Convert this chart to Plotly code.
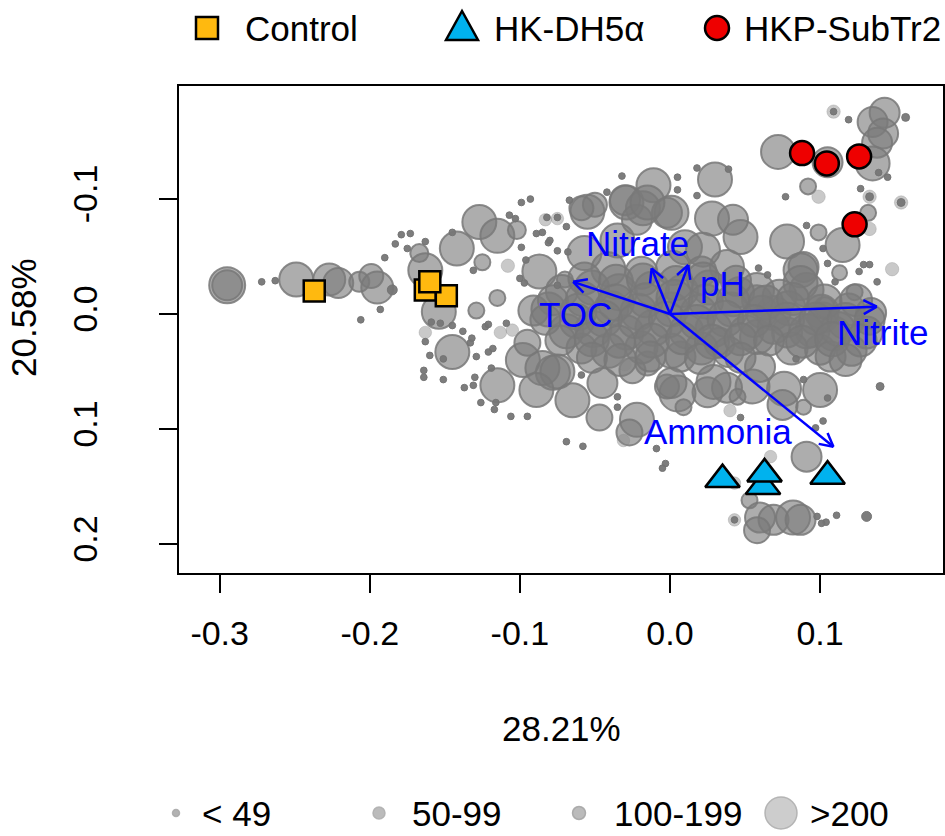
import math
import plotly.graph_objects as go

# ---------------- data ----------------
# OTU bubbles: ordination scores (axis 1, axis 2) and abundance
otu_x = [-0.295, -0.295, -0.272, -0.263, -0.249, -0.227, -0.221, -0.207, -0.199, -0.195,
         -0.185, -0.193, -0.206, -0.190, -0.183, -0.179, -0.173, -0.175, -0.163, -0.167,
         -0.163, -0.154, -0.142, -0.127, -0.115, -0.102, -0.125, -0.099, -0.093, -0.107,
         -0.103, -0.081, -0.075, -0.087, -0.108, -0.115, -0.131, -0.145, -0.129, -0.091,
         -0.083, -0.075, -0.069, -0.067, -0.089, -0.085, -0.099, -0.096, -0.075, -0.068,
         -0.055, -0.057, -0.029, -0.011, -0.018, -0.002, -0.035, -0.070, -0.042, -0.032,
         0.005, -0.080, -0.100, -0.097, 0.143, 0.157, 0.109, 0.109, 0.119, 0.135,
         0.142, 0.138, 0.135, 0.072, 0.105, 0.087, 0.145, 0.139, 0.092, 0.099,
         0.077, 0.127, 0.133, 0.133, 0.154, 0.154, 0.132, 0.133, 0.091, 0.099,
         0.115, 0.078, 0.089, 0.091, 0.102, 0.105, 0.129, 0.133, 0.126, 0.148,
         0.138, 0.113, 0.110, 0.123, 0.030, 0.018, 0.039, 0.005, 0.018, -0.030,
         -0.050, -0.059, 0.001, 0.028, 0.047, 0.042, 0.010, 0.038, 0.058, 0.069,
         -0.022, -0.082, -0.075, 0.087, 0.087, -0.015, 0.022, 0.058, 0.073, 0.059,
         0.065, 0.103, 0.095, 0.109, 0.100, 0.107, 0.102, 0.078, 0.058, 0.033,
         0.007, -0.015, 0.084, 0.140, 0.089, 0.100, 0.105, 0.076, 0.055, 0.038,
         0.025, 0.005, -0.002, 0.045, 0.089, 0.075, 0.009, 0.102, 0.047, 0.097,
         0.040, -0.022, -0.027, -0.031, -0.069, -0.058, -0.009, -0.003, -0.005, -0.047,
         -0.065, -0.078, -0.045, -0.025, 0.001, 0.091, 0.067, 0.043, 0.053, 0.060,
         0.069, 0.082, 0.087, 0.058, 0.043, 0.043, 0.098, 0.104, 0.101, 0.111,
         0.131, 0.029, 0.060, -0.159, -0.153, -0.145, -0.138, -0.163, -0.163, -0.145,
         -0.133, -0.132, -0.160, -0.151, -0.129, -0.121, -0.118, -0.123, -0.121, -0.109,
         -0.113, -0.105, -0.098, -0.085, -0.075, -0.089, -0.115, -0.164, -0.164, -0.151,
         -0.137, -0.131, -0.130, -0.119, -0.126, -0.117, -0.106, -0.095, -0.116, -0.035,
         -0.035, -0.059, -0.030, -0.095]
otu_y = [-0.025, -0.025, -0.028, -0.029, -0.030, -0.030, -0.027, -0.028, -0.033, -0.023,
         -0.021, -0.004, 0.005, -0.049, -0.061, -0.069, -0.070, -0.057, -0.063, -0.053,
         -0.038, -0.002, -0.057, -0.080, -0.068, -0.073, -0.045, -0.097, -0.100, -0.086,
         -0.083, -0.062, -0.055, -0.037, -0.042, -0.014, -0.038, -0.071, -0.003, -0.003,
         -0.082, -0.083, -0.076, -0.099, -0.070, -0.071, -0.058, -0.047, -0.025, -0.054,
         -0.089, -0.053, -0.097, -0.112, -0.092, -0.088, -0.064, -0.030, -0.106, -0.120,
         -0.119, -0.064, -0.031, -0.027, -0.175, -0.171, -0.176, -0.176, -0.169, -0.167,
         -0.157, -0.149, -0.131, -0.141, -0.132, -0.141, -0.119, -0.123, -0.111, -0.102,
         -0.102, -0.109, -0.102, -0.102, -0.097, -0.097, -0.088, -0.074, -0.077, -0.071,
         -0.060, -0.063, -0.041, -0.021, -0.057, -0.044, -0.043, -0.043, -0.037, -0.039,
         -0.028, -0.036, -0.028, -0.019, -0.117, -0.127, -0.126, -0.108, -0.103, -0.099,
         -0.095, -0.092, -0.088, -0.083, -0.067, -0.082, -0.058, -0.041, -0.012, -0.001,
         -0.082, -0.084, -0.084, -0.038, -0.027, -0.097, -0.056, -0.021, -0.015, -0.040,
         -0.034, -0.006, 0.014, 0.017, 0.031, 0.037, 0.003, 0.016, 0.020, 0.025,
         0.037, 0.043, 0.039, 0.063, 0.057, 0.066, 0.073, 0.065, 0.063, 0.064,
         0.068, 0.069, 0.063, 0.072, 0.081, 0.079, 0.081, 0.093, 0.090, 0.099,
         0.084, 0.092, 0.103, 0.110, 0.111, 0.115, 0.117, 0.130, 0.134, 0.090,
         0.075, 0.051, 0.060, 0.049, 0.060, 0.124, 0.124, 0.147, 0.162, 0.177,
         0.179, 0.177, 0.179, 0.188, 0.179, 0.179, 0.176, 0.181, 0.182, 0.175,
         0.176, 0.059, 0.046, 0.007, 0.008, 0.010, 0.015, 0.016, 0.024, 0.033,
         0.025, 0.021, 0.036, 0.039, 0.037, 0.033, 0.030, 0.011, 0.009, 0.008,
         0.016, 0.014, 0.040, 0.047, 0.050, 0.066, 0.062, 0.049, 0.055, 0.057,
         0.064, 0.062, 0.055, 0.047, 0.077, 0.083, 0.089, 0.089, 0.077, 0.081,
         0.072, 0.053, 0.044, 0.025]
otu_abund = [576, 400, 20, 20, 514, 455, 400, 178, 256, 455,
             44, 20, 20, 20, 20, 20, 20, 20, 20, 144,
             514, 514, 514, 514, 514, 144, 114, 20, 20, 20,
             20, 20, 20, 514, 80, 114, 20, 20, 114, 400,
             70, 70, 20, 20, 20, 20, 20, 20, 20, 20,
             514, 514, 514, 514, 514, 400, 514, 114, 20, 20,
             20, 20, 20, 20, 400, 28, 80, 20, 20, 400,
             400, 400, 514, 514, 400, 178, 20, 20, 114, 80,
             20, 20, 80, 28, 80, 28, 114, 80, 20, 114,
             514, 514, 400, 514, 20, 20, 20, 20, 20, 80,
             20, 100, 20, 114, 514, 20, 20, 20, 20, 400,
             256, 256, 514, 514, 514, 400, 514, 514, 400, 514,
             400, 20, 20, 514, 514, 514, 514, 514, 514, 20,
             20, 178, 514, 514, 400, 400, 400, 400, 514, 400,
             400, 256, 20, 28, 20, 514, 20, 514, 514, 400,
             400, 576, 256, 114, 100, 400, 114, 20, 20, 20,
             70, 514, 300, 70, 20, 20, 20, 20, 20, 300,
             514, 514, 400, 300, 400, 400, 70, 70, 114, 400,
             400, 514, 400, 300, 70, 20, 20, 20, 20, 20,
             44, 514, 400, 20, 20, 20, 20, 70, 20, 514,
             20, 20, 20, 20, 20, 20, 20, 20, 20, 20,
             70, 70, 514, 514, 514, 514, 514, 20, 20, 20,
             20, 20, 20, 20, 20, 20, 20, 20, 20, 20,
             20, 20, 70, 300]

# dense core of abundant OTUs around the origin
core_x = [-0.041, -0.019, 0.002, 0.021, -0.072, -0.052, -0.034, -0.012, 0.008, 0.026,
          0.046, -0.081, -0.061, -0.039, -0.021, 0.001, 0.019, 0.041, 0.061, 0.079,
          0.101, 0.119, 0.134, -0.069, -0.051, -0.029, -0.011, 0.011, 0.029, 0.051,
          0.069, 0.091, 0.112, 0.131, -0.059, -0.041, -0.019, 0.001, 0.021, 0.039,
          0.081, 0.121,
          -0.057, -0.036, -0.018, 0.004, 0.022, 0.044, -0.078, -0.058, -0.036, -0.016,
          0.003, 0.024, 0.042, 0.064, 0.082, 0.103, 0.124, -0.083, -0.062, -0.044,
          -0.023, -0.002, 0.018, 0.037, 0.056, 0.078, 0.097, 0.117, 0.133, -0.073,
          -0.052, -0.034, -0.012, 0.008, 0.028, 0.047, 0.066, 0.088, 0.108, 0.127,
          -0.052, -0.033, -0.013, 0.020, 0.047, 0.117]
core_y = [-0.039, -0.036, -0.040, -0.037, -0.020, -0.023, -0.019, -0.022, -0.020, -0.023,
          -0.019, -0.004, -0.002, -0.005, -0.002, -0.004, -0.001, -0.004, -0.002, -0.005,
          -0.002, -0.004, -0.001, 0.015, 0.013, 0.016, 0.012, 0.015, 0.013, 0.016,
          0.012, 0.015, 0.013, 0.016, 0.030, 0.032, 0.029, 0.032, 0.030, 0.033,
          0.030, 0.032,
          -0.031, -0.028, -0.030, -0.027, -0.031, -0.029, -0.012, -0.013, -0.010, -0.012,
          -0.014, -0.011, -0.012, -0.010, -0.013, -0.011, -0.012, 0.005, 0.006, 0.004,
          0.006, 0.005, 0.007, 0.004, 0.006, 0.005, 0.004, 0.006, 0.005, 0.023,
          0.022, 0.024, 0.023, 0.021, 0.024, 0.022, 0.023, 0.024, 0.022, 0.023,
          0.038, 0.040, 0.037, 0.039, 0.038, 0.040]
core_abund = [514, 455, 514, 400, 455, 514, 576, 514, 455, 514,
              400, 514, 576, 514, 576, 514, 576, 514, 455, 514,
              514, 455, 400, 514, 576, 514, 576, 514, 576, 514,
              455, 514, 514, 455, 400, 514, 455, 514, 455, 400,
              455, 400,
              455, 514, 455, 514, 455, 400, 400, 514, 576, 514,
              576, 514, 455, 514, 455, 514, 455, 400, 514, 576,
              514, 576, 514, 576, 455, 514, 455, 576, 400, 400,
              514, 455, 514, 455, 514, 455, 400, 455, 514, 455,
              400, 455, 400, 400, 400, 455]

# sample scores
ctrl_x = [-0.237, -0.163, -0.149, -0.160]
ctrl_y = [-0.020, -0.021, -0.016, -0.028]
hk_x = [0.035, 0.062, 0.063, 0.105]
hk_y = [0.144, 0.150, 0.139, 0.141]
hkp_x = [0.088, 0.1045, 0.126, 0.123]
hkp_y = [-0.140, -0.131, -0.137, -0.078]

# environmental vectors
env_names = ["TOC", "Nitrate", "pH", "Nitrite", "Ammonia"]
env_x = [-0.0645, -0.0122, 0.0122, 0.1378, 0.1089]
env_y = [-0.0280, -0.0397, -0.0426, -0.0064, 0.1154]

x_ticks = [-0.3, -0.2, -0.1, 0.0, 0.1]
x_ticktext = ["-0.3", "-0.2", "-0.1", "0.0", "0.1"]
y_ticks = [-0.1, 0.0, 0.1, 0.2]
y_ticktext = ["-0.1", "0.0", "0.1", "0.2"]

size_classes = ["< 49", "50-99", "100-199", ">200"]
group_names = ["Control", "HK-DH5\u03b1", "HKP-SubTr2"]
x_title = "28.21%"
y_title = "20.58%"

assert len(otu_x) == len(otu_y) == len(otu_abund)
assert len(core_x) == len(core_y) == len(core_abund)

# ---------------- layout constants ----------------
W, H = 945, 836
PL, PR, PT, PB = 179, 943, 86, 573
X_RANGE = [-0.3271, 0.1819]
Y_RANGE = [0.2252, -0.1983]  # reversed: bottom value, top value
FONT = "Liberation Sans, Arial, Helvetica, sans-serif"
FS = 34
BLUE = "#0000FF"

def px(x):
    return x / W

def py(y):
    return 1 - y / H

def diam(a):
    return 1.5 * math.sqrt(a)

fig = go.Figure()

all_x = otu_x + core_x
all_y = otu_y + core_y
all_a = otu_abund + core_abund

tiny = [i for i, a in enumerate(all_a) if a < 50]
mid = [i for i, a in enumerate(all_a) if 50 <= a < 100]
big = [i for i, a in enumerate(all_a) if a >= 100]

fig.add_trace(go.Scatter(
    x=[all_x[i] for i in big], y=[all_y[i] for i in big], mode="markers",
    marker=dict(size=[diam(all_a[i]) for i in big], color="rgba(122,122,122,0.62)", opacity=1,
                line=dict(color="rgba(120,120,120,0.85)", width=2)),
    showlegend=False, hoverinfo="skip"))
fig.add_trace(go.Scatter(
    x=[all_x[i] for i in mid], y=[all_y[i] for i in mid], mode="markers",
    marker=dict(size=[diam(all_a[i]) for i in mid], color="rgba(135,135,135,0.45)", opacity=1,
                line=dict(color="rgba(135,135,135,0.3)", width=1)),
    showlegend=False, hoverinfo="skip"))
fig.add_trace(go.Scatter(
    x=[all_x[i] for i in tiny], y=[all_y[i] for i in tiny], mode="markers",
    marker=dict(size=[diam(all_a[i]) for i in tiny], color="rgba(118,118,118,0.95)", opacity=1,
                line=dict(color="rgba(115,115,115,0.95)", width=1)),
    showlegend=False, hoverinfo="skip"))

# environmental arrows (heads computed in pixel space)
SX = (PR - PL) / (X_RANGE[1] - X_RANGE[0])
SY = (PB - PT) / (Y_RANGE[0] - Y_RANGE[1])
HEAD, ANG = 15, math.radians(28)
ax, ay = [], []
for ex, ey in zip(env_x, env_y):
    vx, vy = ex * SX, ey * SY
    n = math.hypot(vx, vy)
    ux, uy = vx / n, vy / n
    ax += [0, ex, None]
    ay += [0, ey, None]
    for s in (1, -1):
        rx = ux * math.cos(s * ANG) - uy * math.sin(s * ANG)
        ry = ux * math.sin(s * ANG) + uy * math.cos(s * ANG)
        ax += [ex - HEAD * rx / SX, ex, None]
        ay += [ey - HEAD * ry / SY, ey, None]
fig.add_trace(go.Scatter(x=ax, y=ay, mode="lines", line=dict(color=BLUE, width=2.5),
                         showlegend=False, hoverinfo="skip"))

# samples
fig.add_trace(go.Scatter(x=ctrl_x, y=ctrl_y, mode="markers", name=group_names[0],
                         marker=dict(symbol="square", size=21, color="#FFB90F", opacity=1,
                                     line=dict(color="black", width=2.5)), showlegend=False))
fig.add_trace(go.Scatter(x=hk_x, y=hk_y, mode="markers", name=group_names[1],
                         marker=dict(symbol="triangle-up", size=30, color="#00B2EE", opacity=1,
                                     line=dict(color="black", width=2.5)), showlegend=False))
fig.add_trace(go.Scatter(x=hkp_x, y=hkp_y, mode="markers", name=group_names[2],
                         marker=dict(symbol="circle", size=24, color="#EE0000", opacity=1,
                                     line=dict(color="black", width=2.5)), showlegend=False))

annotations = []
label_shift = {"TOC": (2, 33), "Nitrate": (-14, -25), "pH": (34, 18),
               "Nitrite": (6, 26), "Ammonia": (-115, -15)}
for nm, ex, ey in zip(env_names, env_x, env_y):
    dx, dy = label_shift[nm]
    annotations.append(dict(x=ex, y=ey, xref="x", yref="y", text=nm, showarrow=False,
                            xshift=dx, yshift=-dy, font=dict(family=FONT, size=35, color=BLUE)))

# axis titles
annotations.append(dict(x=px((PL + PR) / 2), y=py(728), xref="paper", yref="paper", text=x_title,
                        xanchor="center", yanchor="middle", showarrow=False,
                        font=dict(family=FONT, size=35, color="black")))
annotations.append(dict(x=px(24), y=py(318), xref="paper", yref="paper", text=y_title,
                        xanchor="center", yanchor="middle", textangle=-90, showarrow=False,
                        font=dict(family=FONT, size=35, color="black")))

shapes = []
# top legend
shapes.append(dict(type="rect", xref="paper", yref="paper", x0=px(196), x1=px(218), y0=py(39), y1=py(17),
                   fillcolor="#FFB90F", line=dict(color="black", width=2.5)))
shapes.append(dict(type="path", xref="paper", yref="paper",
                   path=f"M {px(446)},{py(40)} L {px(478)},{py(40)} L {px(462)},{py(11)} Z",
                   fillcolor="#00B2EE", line=dict(color="black", width=2.5)))
shapes.append(dict(type="circle", xref="paper", yref="paper", x0=px(705), x1=px(729), y0=py(40), y1=py(16),
                   fillcolor="#EE0000", line=dict(color="black", width=2.5)))
for txt, xl in zip(group_names, [243, 492, 742]):
    annotations.append(dict(x=px(xl), y=py(29), xref="paper", yref="paper", text=txt, showarrow=False,
                            xanchor="left", yanchor="middle", font=dict(family=FONT, size=35, color="black")))

# bottom (size) legend
LY = 813
for (cx, r, fc, lc), txt, xl in zip(
        [(176, 3.5, "rgba(170,170,170,0.9)", "rgba(170,170,170,0.9)"),
         (379, 6, "rgba(180,180,180,0.9)", "rgba(175,175,175,0.9)"),
         (579, 6.5, "rgba(180,180,180,0.9)", "rgba(165,165,165,0.9)"),
         (781, 16, "rgba(200,200,200,0.9)", "rgba(175,175,175,0.9)")],
        size_classes, [200, 410, 612, 808]):
    shapes.append(dict(type="circle", xref="paper", yref="paper", x0=px(cx - r), x1=px(cx + r),
                       y0=py(LY + r), y1=py(LY - r), fillcolor=fc, line=dict(color=lc, width=1.5)))
    annotations.append(dict(x=px(xl), y=py(LY), xref="paper", yref="paper", text=txt, showarrow=False,
                            xanchor="left", yanchor="middle", font=dict(family=FONT, size=35, color="black")))

fig.update_layout(
    width=W, height=H, margin=dict(l=0, r=0, t=0, b=0, pad=0),
    paper_bgcolor="white", plot_bgcolor="white",
    font=dict(family=FONT, size=FS, color="black"),
    xaxis=dict(domain=[px(PL), px(PR)], range=X_RANGE, tickvals=x_ticks, ticktext=x_ticktext,
               ticks="outside", ticklen=18, tickwidth=2, tickcolor="black",
               showline=True, linecolor="black", linewidth=2, mirror=True,
               showgrid=False, zeroline=False, ticklabelstandoff=11,
               tickfont=dict(family=FONT, size=FS, color="black")),
    yaxis=dict(domain=[py(PB), py(PT)], range=Y_RANGE, tickvals=y_ticks, ticktext=y_ticktext,
               ticks="outside", ticklen=18, tickwidth=2, tickcolor="black", tickangle=-90,
               showline=True, linecolor="black", linewidth=2, mirror=True,
               showgrid=False, zeroline=False, ticklabelstandoff=48,
               tickfont=dict(family=FONT, size=FS, color="black")),
    shapes=shapes, annotations=annotations, showlegend=False,
)

fig.write_html("out.html")
